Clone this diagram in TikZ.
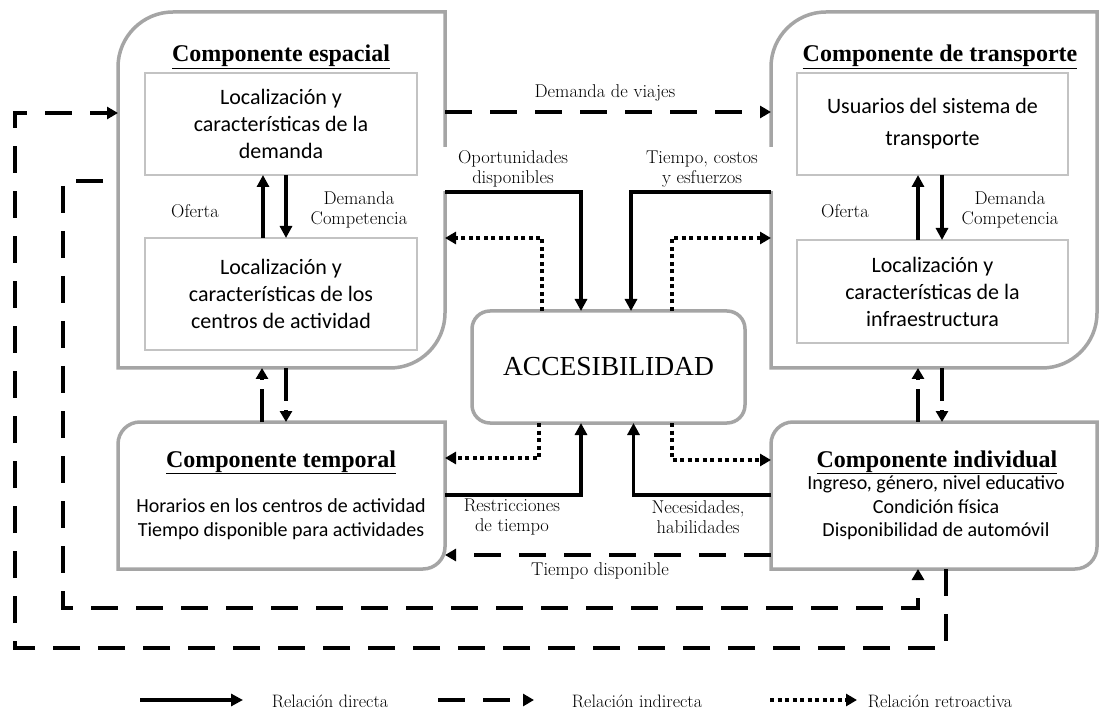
\documentclass[tikz,border=0pt]{standalone}
\usepackage{fontspec}
\newfontfamily\calfont{Carlito}
\newfontfamily\titfont{Liberation Serif}
\usetikzlibrary{arrows.meta,calc}
\definecolor{boxgray}{RGB}{165,165,165}
\definecolor{ingray}{RGB}{195,195,195}
\tikzset{
  frame/.style={draw=none, inner sep=0pt, outer sep=0pt},
  compline/.style={draw=boxgray, line width=3.5pt},
  inbox/.style={draw=ingray, line width=1.2pt, inner sep=0pt, outer sep=0pt, align=center,
    font=\calfont\fontsize{22}{27}\selectfont},
  comptitle/.style={anchor=base, inner sep=0pt, font=\titfont\bfseries\fontsize{24}{28}\selectfont},
  comptext/.style={align=center, inner sep=0pt, font=\calfont\fontsize{20}{24}\selectfont},
  lbl/.style={align=center, inner sep=1pt, font=\fontsize{18.5}{20}\selectfont},
  leglbl/.style={inner sep=1pt, font=\fontsize{18}{20}\selectfont},
  direct/.style={line width=3.5pt, -{Triangle[length=12pt,width=12pt]}},
  indirect/.style={line width=4pt, dash pattern=on 27pt off 18pt, -{Triangle[length=11pt,width=12pt]}},
  shortdash/.style={line width=4pt, dash pattern=on 33pt off 9pt, -{Triangle[length=11pt,width=12pt]}},
  retro/.style={line width=4pt, dash pattern=on 4pt off 3.5pt, -{Triangle[length=11pt,width=12pt]}},
}
\newcommand\compframe[2]{%
  \draw[compline] (#1.north east) -- ($(#1.north west)+(#2,0)$)
    .. controls ($(#1.north west)+({0.45*#2},0)$) and ($(#1.north west)+(0,{0.45*#2})$) .. ($(#1.north west)+(0,#2)$)
    -- (#1.south west) -- ($(#1.south east)+(-#2,0)$)
    .. controls ($(#1.south east)+({-0.45*#2},0)$) and ($(#1.south east)+(0,{-0.45*#2})$) .. ($(#1.south east)+(0,-#2)$)
    -- cycle;}
\begin{document}
\begin{tikzpicture}[x=1pt,y=-1pt]
\fill[white] (0,0) rectangle (1101,711);
\useasboundingbox (0,0) rectangle (1101,711);

% component frames
\node[frame, minimum width=327pt, minimum height=356pt] (esp) at (281.5,190) {};
\node[frame, minimum width=326pt, minimum height=356pt] (tra) at (934,190) {};
\node[frame, minimum width=327pt, minimum height=147pt] (tem) at (281.5,495.5) {};
\node[frame, minimum width=326pt, minimum height=147pt] (ind) at (934,495.5) {};
\compframe{esp}{55}
\compframe{tra}{55}
\compframe{tem}{22}
\compframe{ind}{22}

\node[draw=boxgray, line width=3.5pt, rounded corners=18pt, minimum width=273pt, minimum height=112pt,
  inner sep=0pt, outer sep=0pt, font=\titfont\fontsize{27.5}{30}\selectfont] (acc) at (608.5,367) {ACCESIBILIDAD};

% titles
\node[comptitle] (esptit) at (281,62) {\underline{Componente espacial}};
\node[comptitle] (tratit) at (940,62) {\underline{Componente de transporte}};
\node[comptitle] (temtit) at (281,467) {\underline{Componente temporal}};
\node[comptitle] (indtit) at (937,467) {\underline{Componente individual}};

% inner boxes
\node[inbox, minimum width=272pt, minimum height=102pt] (e1) at (281,124) {Localización y\\características de la\\demanda};
\node[inbox, minimum width=272pt, minimum height=112pt] (e2) at (281,294) {Localización y\\características de los\\centros de actividad};
\node[inbox, minimum width=271pt, minimum height=102pt, font=\calfont\fontsize{22}{32}\selectfont] (t1) at (932.5,124) {Usuarios del sistema de\\transporte};
\node[inbox, minimum width=271pt, minimum height=103pt] (t2) at (932.5,291.5) {Localización y\\características de la\\infraestructura};

\node[comptext] (temtxt) at (281,519) {Horarios en los centros de actividad\\Tiempo disponible para actividades};
\node[comptext, font=\calfont\fontsize{20}{23.5}\selectfont] (indtxt) at (936,508) {Ingreso, género, nivel educativo\\Condición física\\Disponibilidad de automóvil};

% labels
\node[lbl] (ldv) at (605,93) {Demanda de viajes};
\node[lbl, fill=white, minimum width=142pt, minimum height=44pt] (lopo) at (513,169) {Oportunidades\\disponibles};
\node[lbl, fill=white, minimum width=146pt, minimum height=44pt] (ltie) at (702,169) {Tiempo, costos\\y esfuerzos};
\node[lbl] (lof1) at (195,211) {Oferta};
\node[lbl] (ldc1) at (359,210) {Demanda\\Competencia};
\node[lbl] (lof2) at (845,211) {Oferta};
\node[lbl] (ldc2) at (1010,210) {Demanda\\Competencia};
\node[lbl] (lres) at (512,517) {Restricciones\\de tiempo};
\node[lbl] (lnec) at (698,517) {Necesidades,\\habilidades};
\node[lbl] (ltd) at (600,571) {Tiempo disponible};

% internal arrows
\draw[direct] ([xshift=-18pt]e2.north) -- ([xshift=-18pt]e1.south);
\draw[direct] ([xshift=5pt]e1.south) -- ([xshift=5pt]e2.north);
\draw[direct] ([xshift=-14.5pt]t2.north) -- ([xshift=-14.5pt]t1.south);
\draw[direct] ([xshift=9.5pt]t1.south) -- ([xshift=9.5pt]t2.north);

% between components vertically
\draw[shortdash] ([xshift=-19.5pt]tem.north) -- ([xshift=-19.5pt]esp.south);
\draw[shortdash] ([xshift=4.5pt]esp.south) -- ([xshift=4.5pt]tem.north);
\draw[shortdash] ([xshift=-16pt]ind.north) -- ([xshift=-16pt]tra.south);
\draw[shortdash] ([xshift=8pt]tra.south) -- ([xshift=8pt]ind.north);

% top connectors
\draw[indirect] ([yshift=78pt]esp.east) -- ([yshift=78pt]tra.west);
\draw[direct] ([yshift=-2pt]esp.east) -| ([xshift=-27.5pt]acc.north);
\draw[direct] ([yshift=-2pt]tra.west) -| ([xshift=22.5pt]acc.north);
\draw[retro] ([xshift=-66.5pt]acc.north) |- ([yshift=-48pt]esp.east);
\draw[retro] ([xshift=63.5pt]acc.north) |- ([yshift=-48pt]tra.west);

% bottom connectors
\draw[retro] ([xshift=-69.5pt]acc.south) |- ([yshift=37.5pt]tem.east);
\draw[retro] ([xshift=63.5pt]acc.south) |- ([yshift=35.5pt]ind.west);
\draw[direct] ([yshift=0.5pt]tem.east) -| ([xshift=-27.5pt]acc.south);
\draw[direct] ([yshift=0.5pt]ind.west) -| ([xshift=25pt]acc.south);
\draw[indirect] ([yshift=-59.5pt]ind.west) -- ([yshift=-59.5pt]tem.east);

% feedback loops
\coordinate (li) at (63,608);
\coordinate (lo) at (15,648);
\draw[indirect, dash phase=30pt] ([yshift=9pt]esp.west) -| (li) -| ([xshift=-16pt]ind.south);
\draw[indirect] ([xshift=12pt]ind.south) |- (lo) |- ([yshift=77pt]esp.west);

% legend
\coordinate (la1) at (140,700); \coordinate (la2) at (243,700);
\coordinate (lb1) at (438,700); \coordinate (lb2) at (534,700);
\coordinate (lc1) at (770,700); \coordinate (lc2) at (857,700);
\draw[direct] (la1) -- (la2);
\draw[indirect] (lb1) -- (lb2);
\draw[retro] (lc1) -- (lc2);
\node[leglbl] (lg1) at (330,701) {Relación directa};
\node[leglbl] (lg2) at (637,701) {Relación indirecta};
\node[leglbl] (lg3) at (940,701) {Relación retroactiva};
\end{tikzpicture}
\end{document}
